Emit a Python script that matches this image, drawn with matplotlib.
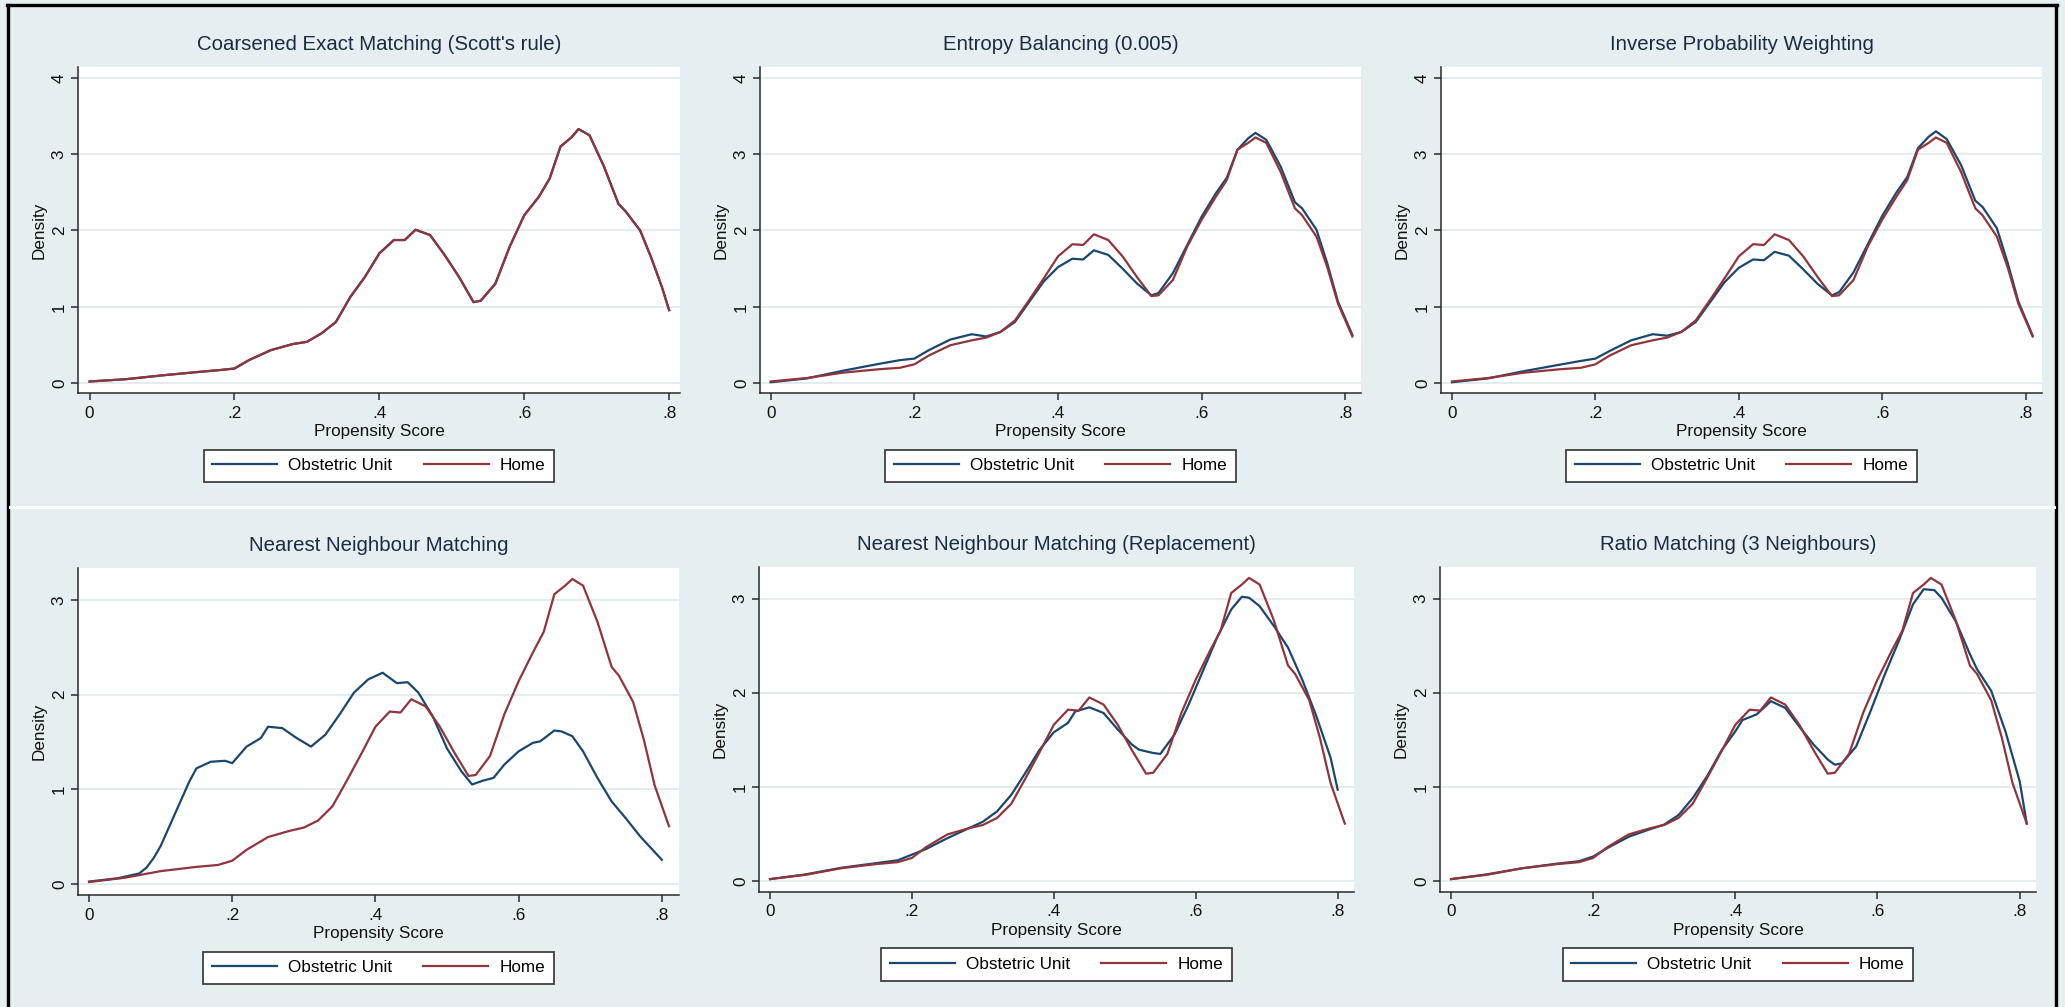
import matplotlib
matplotlib.use('Agg')
import matplotlib.pyplot as plt
from matplotlib.lines import Line2D

# Colours (Stata s2color look)
BG = '#e5eef0'
NAVY = '#1a476f'
MAROON = '#90353b'
GRID = '#e3ecef'
TEXT = '#111111'
TITLE = '#1c2b44'

plt.rcParams['font.family'] = ['Liberation Sans', 'DejaVu Sans']

# ---------------------------------------------------------------
# Data: kernel density curves
# ---------------------------------------------------------------
panel_titles = [
    "Coarsened Exact Matching (Scott's rule)",
    "Entropy Balancing (0.005)",
    "Inverse Probability Weighting",
    "Nearest Neighbour Matching",
    "Nearest Neighbour Matching (Replacement)",
    "Ratio Matching (3 Neighbours)",
]
series_names = ['Obstetric Unit', 'Home']
x_ticks = [0, 0.2, 0.4, 0.6, 0.8]
x_tick_labels = ['0', '.2', '.4', '.6', '.8']

# shared propensity score grid (ends at .81)
score_grid = [0, .05, .1, .15, .18, .2, .22, .25, .28, .3, .32, .34, .36,
              .38, .40, .42, .435, .45, .47, .49, .51, .53, .54, .56, .58,
              .6, .62, .635, .65, .665, .675, .69, .71, .73, .74, .76,
              .775, .79, .81]

# Home density after weighting/matching (panels 2-6)
home_density = [0.02, 0.065, 0.135, 0.18, 0.20, 0.245, 0.36, 0.495, 0.56,
                0.595, 0.67, 0.82, 1.09, 1.37, 1.66, 1.82, 1.81, 1.95, 1.875,
                1.66, 1.39, 1.14, 1.15, 1.35, 1.79, 2.14, 2.445, 2.66, 3.06,
                3.15, 3.22, 3.15, 2.77, 2.29, 2.20, 1.92, 1.52, 1.04, 0.61]

# Coarsened exact matching (both groups overlap, ends at .80)
cem_grid = [0, .05, .1, .15, .18, .2, .22, .25, .28, .3, .32, .34, .36,
            .38, .40, .42, .435, .45, .47, .49, .51, .53, .54, .56, .58,
            .6, .62, .635, .65, .665, .675, .69, .71, .73, .74, .76,
            .775, .79, .80]
cem_density = [0.02, 0.05, 0.10, 0.145, 0.17, 0.19, 0.30, 0.43, 0.51, 0.54,
               0.65, 0.80, 1.13, 1.39, 1.70, 1.875, 1.875, 2.01, 1.94, 1.68,
               1.39, 1.06, 1.08, 1.30, 1.79, 2.20, 2.44, 2.68, 3.10, 3.22,
               3.33, 3.25, 2.84, 2.35, 2.25, 2.00, 1.65, 1.26, 0.955]

# Entropy balancing, obstetric unit
eb_obstetric = [0.01, 0.06, 0.16, 0.25, 0.30, 0.32, 0.43, 0.57, 0.64, 0.61,
                0.67, 0.80, 1.065, 1.33, 1.52, 1.63, 1.62, 1.74, 1.68, 1.50,
                1.305, 1.15, 1.18, 1.44, 1.81, 2.18, 2.49, 2.69, 3.06, 3.21,
                3.28, 3.19, 2.84, 2.37, 2.29, 2.01, 1.57, 1.065, 0.63]

# Inverse probability weighting, obstetric unit
ipw_obstetric = [0.01, 0.06, 0.155, 0.24, 0.29, 0.32, 0.42, 0.56, 0.64, 0.62,
                 0.67, 0.80, 1.06, 1.32, 1.51, 1.62, 1.61, 1.72, 1.67, 1.49,
                 1.30, 1.15, 1.19, 1.45, 1.82, 2.19, 2.50, 2.70, 3.08, 3.23,
                 3.30, 3.20, 2.86, 2.39, 2.31, 2.03, 1.58, 1.07, 0.62]

# Nearest neighbour matching, obstetric unit (ends at .80)
nn_grid = [0, .04, .07, .08, .09, .1, .12, .14, .15, .17, .19, .2, .22, .24,
           .25, .27, .29, .31, .33, .35, .37, .39, .41, .43, .445, .46, .48,
           .5, .52, .535, .55, .565, .58, .6, .62, .63, .65, .66, .675, .69,
           .71, .73, .75, .77, .8]
nn_obstetric = [0.025, 0.06, 0.11, 0.17, 0.27, 0.40, 0.74, 1.08, 1.22, 1.29,
                1.30, 1.275, 1.45, 1.54, 1.66, 1.645, 1.54, 1.45, 1.575, 1.79,
                2.02, 2.16, 2.23, 2.12, 2.13, 2.02, 1.77, 1.43, 1.19, 1.05,
                1.09, 1.12, 1.26, 1.40, 1.49, 1.505, 1.62, 1.61, 1.56, 1.40,
                1.12, 0.87, 0.69, 0.50, 0.255]

# Nearest neighbour matching with replacement, obstetric unit (ends at .80)
nnr_grid = [0, .05, .1, .15, .18, .2, .22, .25, .28, .3, .32, .34, .36, .38,
            .40, .42, .43, .45, .47, .49, .51, .52, .54, .55, .57, .59, .61,
            .63, .65, .665, .675, .69, .71, .73, .75, .77, .79, .80]
nnr_obstetric = [0.02, 0.07, 0.14, 0.19, 0.22, 0.28, 0.34, 0.455, 0.56, 0.63,
                 0.74, 0.915, 1.15, 1.395, 1.58, 1.68, 1.80, 1.845, 1.785,
                 1.61, 1.45, 1.395, 1.36, 1.35, 1.555, 1.875, 2.23, 2.585,
                 2.885, 3.02, 3.01, 2.92, 2.71, 2.48, 2.14, 1.75, 1.31, 0.97]

# Ratio matching (3 neighbours), obstetric unit
ratio_grid = [0, .05, .1, .15, .18, .2, .22, .25, .28, .3, .32, .34, .36,
              .38, .40, .41, .43, .45, .47, .49, .51, .53, .54, .55, .57,
              .59, .61, .63, .65, .665, .68, .69, .71, .73, .74, .76, .78,
              .80, .81]
ratio_obstetric = [0.02, 0.07, 0.135, 0.185, 0.21, 0.26, 0.35, 0.47, 0.55,
                   0.60, 0.70, 0.88, 1.11, 1.38, 1.59, 1.71, 1.77, 1.91, 1.84,
                   1.64, 1.45, 1.29, 1.235, 1.25, 1.43, 1.80, 2.19, 2.55,
                   2.94, 3.10, 3.09, 3.01, 2.76, 2.41, 2.25, 2.02, 1.59, 1.06,
                   0.61]

# (obstetric x, obstetric y, home x, home y) for each panel
panel_series = [
    (cem_grid, cem_density, cem_grid, cem_density),
    (score_grid, eb_obstetric, score_grid, home_density),
    (score_grid, ipw_obstetric, score_grid, home_density),
    (nn_grid, nn_obstetric, score_grid, home_density),
    (nnr_grid, nnr_obstetric, score_grid, home_density),
    (ratio_grid, ratio_obstetric, score_grid, home_density),
]

# ---------------------------------------------------------------
# Layout (pixels of the 2065 x 1007 canvas)
# ---------------------------------------------------------------
W, H = 2065, 1007

# left, top, right, bottom of each plot region
panel_boxes = [
    (78, 67, 680, 393),
    (760, 67, 1361, 393),
    (1441, 67, 2042, 393),
    (78, 568, 679, 895),
    (759, 567, 1354, 892),
    (1440, 567, 2036, 892),
]
panel_xlims = [(-0.016, 0.815), (-0.015, 0.822), (-0.0153, 0.823),
               (-0.0154, 0.824), (-0.0155, 0.823), (-0.0155, 0.823)]


def px_box(left, top, right, bottom):
    '''Convert a pixel box to figure fractions.'''
    return [left / W, 1 - bottom / H, (right - left) / W, (bottom - top) / H]


def draw_panel(fig, idx):
    '''Draws one Stata-like density panel.'''
    ax = fig.add_axes(px_box(*panel_boxes[idx]))
    ax.set_facecolor('white')

    ox, oy, hx, hy = panel_series[idx]
    l1, = ax.plot(ox, oy, color=NAVY, lw=1.6, solid_joinstyle='round')
    l2, = ax.plot(hx, hy, color=MAROON, lw=1.6, solid_joinstyle='round')

    top_row = idx < 3
    if top_row:
        ax.set_ylim(-0.131, 4.144)
        ax.set_yticks([0, 1, 2, 3, 4])
    else:
        ax.set_ylim(-0.117, 3.336)
        ax.set_yticks([0, 1, 2, 3])
    ax.set_xlim(*panel_xlims[idx])
    ax.set_xticks(x_ticks)
    ax.set_xticklabels(x_tick_labels)

    # Grid & spines
    ax.yaxis.grid(True, color=GRID, lw=1.4)
    ax.xaxis.grid(False)
    ax.set_axisbelow(True)
    for side in ['top', 'right']:
        ax.spines[side].set_visible(False)
    for side in ['left', 'bottom']:
        ax.spines[side].set_color('#2a2a2a')
        ax.spines[side].set_linewidth(1.1)

    ax.tick_params(axis='both', direction='out', length=5, width=1.1,
                   color='#2a2a2a', labelsize=12.3, labelcolor=TEXT, pad=4)
    ax.tick_params(axis='y', labelrotation=90, pad=3)
    for lab in ax.get_yticklabels():
        lab.set_va('center')

    ax.set_title(panel_titles[idx], fontsize=14.7, color=TITLE, pad=12)
    ax.set_xlabel('Propensity Score', fontsize=12.3, color=TEXT, labelpad=2.5)
    ax.set_ylabel('Density', fontsize=12.3, color=TEXT, labelpad=4)

    leg = ax.legend([l1, l2], series_names, loc='center',
                    bbox_to_anchor=(0.5, -0.223), ncol=2, fontsize=12.3,
                    frameon=True, fancybox=False, framealpha=1,
                    edgecolor='#404040', handlelength=3.8,
                    handletextpad=0.65, columnspacing=1.85, borderpad=0.5)
    leg.get_frame().set_linewidth(1.3)
    for line in leg.get_lines():
        line.set_linewidth(1.6)
    return ax


fig = plt.figure(figsize=(W / 100, H / 100), dpi=100, facecolor=BG)

for i in range(len(panel_titles)):
    draw_panel(fig, i)

# Outer frame of the combined graph and the row separator
frame_kw = dict(color='black', lw=2.4, transform=fig.transFigure)
fig.add_artist(Line2D([7 / W, 2057 / W], [1 - 5 / H, 1 - 5 / H], **frame_kw))
fig.add_artist(Line2D([8 / W, 8 / W], [0, 1 - 5 / H], **frame_kw))
fig.add_artist(Line2D([2056 / W, 2056 / W], [0, 1 - 5 / H], **frame_kw))
fig.add_artist(Line2D([10 / W, 2054 / W], [1 - 507 / H, 1 - 507 / H],
                      color='white', lw=2.2, transform=fig.transFigure))

fig.savefig('out.png', dpi=100, facecolor=BG)
